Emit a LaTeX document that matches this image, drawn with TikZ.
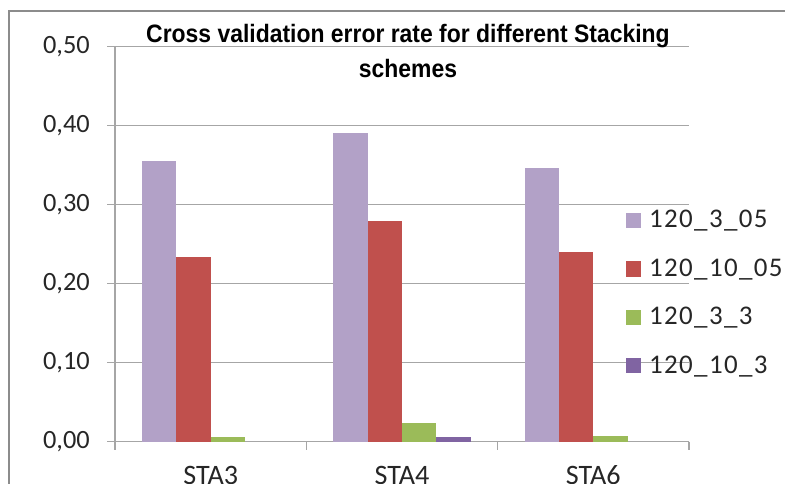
\documentclass[tikz,border=0pt]{standalone}
\usepackage{fontspec}
\setmainfont{Carlito}
\newfontfamily\titlefont[FakeStretch=0.91]{Liberation Sans}
\newfontfamily\legfont[LetterSpace=5]{Carlito}
\usetikzlibrary{positioning}

\definecolor{lavbar}{HTML}{B2A1C7}
\definecolor{redbar}{HTML}{C0504D}
\definecolor{greenbar}{HTML}{9BBB59}
\definecolor{plumbar}{HTML}{8064A2}
\definecolor{gridgray}{HTML}{A6A6A6}
\definecolor{framegray}{HTML}{8C8C8C}
\definecolor{inkgray}{HTML}{262626}

\tikzset{
  gridline/.style={draw=gridgray, line width=0.9pt},
  frameline/.style={draw=framegray, line width=1.7pt},
  ticklabel/.style={font=\fontsize{22.5}{26}\selectfont, text=inkgray, anchor=east},
  catlabel/.style={font=\fontsize{24}{28}\selectfont, text=inkgray, anchor=base},
  legtext/.style={font=\legfont\fontsize{23}{27}\selectfont, text=inkgray, anchor=base west},
  keybox/.style={minimum size=0.45cm, inner sep=0pt},
  titletext/.style={font=\titlefont\bfseries\fontsize{21.5}{26}\selectfont, anchor=base}
}

\begin{document}
\begin{tikzpicture}[x=0.03cm,y=0.03cm]
\tikzstyle{every node}+=[inner sep=0pt]
\useasboundingbox (0,0) rectangle (785,-484);
\clip (0,0) rectangle (785,-484);
% chart frame
\draw [frameline] (9,-500) -- (9,-11) -- (800,-11);
% grid and axes
\draw [gridline] (107,-46.3) -- (689,-46.3);
\draw [gridline] (107,-125.5) -- (689,-125.5);
\draw [gridline] (107,-204.6) -- (689,-204.6);
\draw [gridline] (107,-283.5) -- (689,-283.5);
\draw [gridline] (107,-362.6) -- (689,-362.6);
\draw [gridline] (107,-441.7) -- (689,-441.7);
\draw [gridline] (115,-46.3) -- (115,-450);
\draw [gridline] (306.3,-441.7) -- (306.3,-450);
\draw [gridline] (497.6,-441.7) -- (497.6,-450);
\draw [gridline] (689,-441.7) -- (689,-450);
\node [ticklabel] (y50) at (90,-46.3) {0,50};
\node [ticklabel] (y40) at (90,-125.5) {0,40};
\node [ticklabel] (y30) at (90,-204.6) {0,30};
\node [ticklabel] (y20) at (90,-283.5) {0,20};
\node [ticklabel] (y10) at (90,-362.6) {0,10};
\node [ticklabel] (y00) at (90,-441.7) {0,00};
% STA3
\fill [lavbar] (141.9,-441.7) rectangle (176.3,-161.3);
\fill [redbar] (176.3,-441.7) rectangle (210.7,-257.3);
\fill [greenbar] (210.7,-441.7) rectangle (245.1,-436.9);
% STA4
\fill [lavbar] (333.2,-441.7) rectangle (367.6,-133.3);
\fill [redbar] (367.6,-441.7) rectangle (402.0,-220.7);
\fill [greenbar] (402.0,-441.7) rectangle (436.4,-422.7);
\fill [plumbar] (436.4,-441.7) rectangle (470.8,-436.9);
% STA6
\fill [lavbar] (524.5,-441.7) rectangle (558.9,-167.7);
\fill [redbar] (558.9,-441.7) rectangle (593.3,-252.3);
\fill [greenbar] (593.3,-441.7) rectangle (627.7,-435.5);
\node [catlabel] (sta3) at (210.7,-484) {STA3};
\node [catlabel] (sta4) at (402.0,-484) {STA4};
\node [catlabel] (sta6) at (593.3,-484) {STA6};
% title
\node [titletext] (title1) at (408,-43) {Cross validation error rate for different Stacking};
\node [titletext] (title2) at (408,-78) {schemes};
% legend
\node [keybox, fill=lavbar] (key1) at (633.5,-220.5) {};
\node [keybox, fill=redbar] (key2) at (633.5,-269) {};
\node [keybox, fill=greenbar] (key3) at (633.5,-317) {};
\node [keybox, fill=plumbar] (key4) at (633.5,-365.5) {};
\node [legtext] (leg1) at (649,-228) {120\_3\_05};
\node [legtext] (leg2) at (649,-276.5) {120\_10\_05};
\node [legtext] (leg3) at (649,-324.5) {120\_3\_3};
\node [legtext] (leg4) at (649,-373) {120\_10\_3};
\end{tikzpicture}
\end{document}
